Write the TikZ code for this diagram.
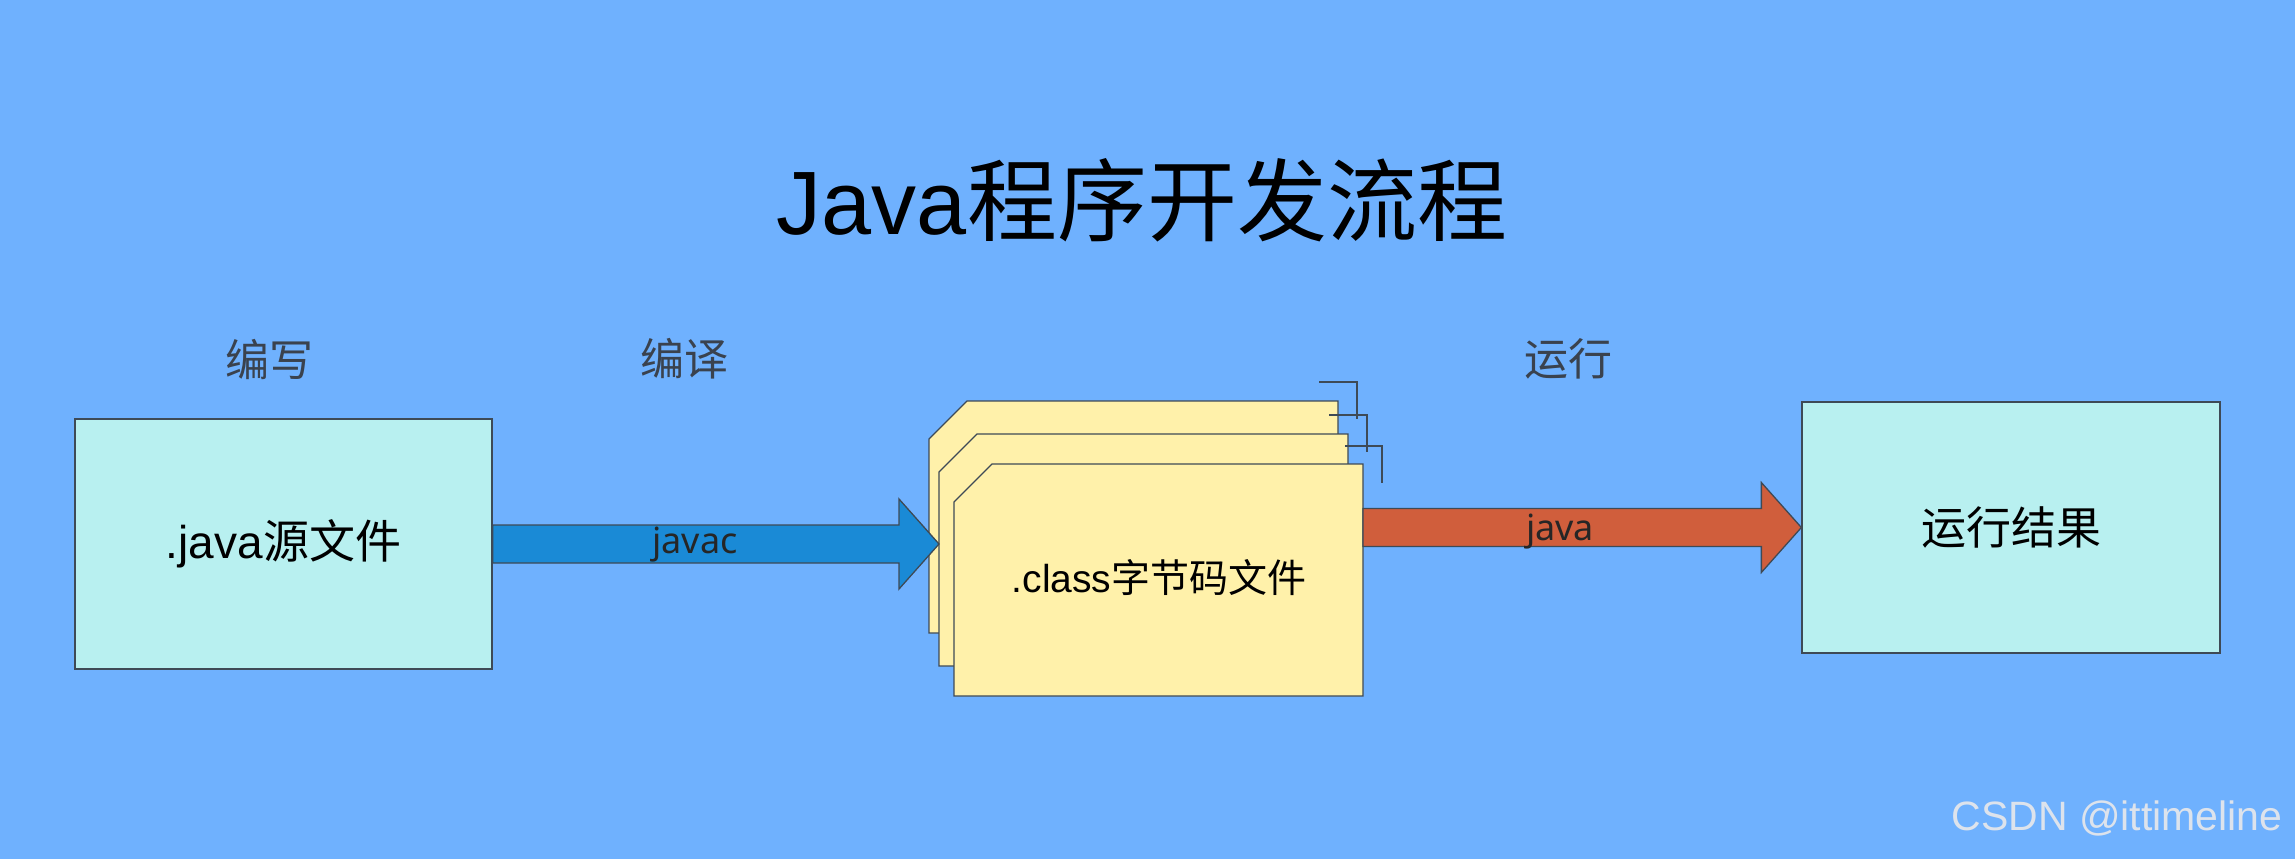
\documentclass[tikz,border=0pt]{standalone}
\usepackage{fontspec}
\setmainfont{Liberation Sans}
\newfontfamily\cjk{Noto Sans CJK SC}
\newfontfamily\noto{Noto Sans}
\usetikzlibrary{calc}
\definecolor{bg}{HTML}{6FB1FE}
\definecolor{boxfill}{HTML}{B8F0F0}
\definecolor{cardfill}{HTML}{FFF1AA}
\definecolor{edge}{HTML}{3E4A56}
\definecolor{bluearrow}{HTML}{1A8AD6}
\definecolor{redarrow}{HTML}{D05E3C}
\definecolor{labelgray}{HTML}{3A424E}
\definecolor{wm}{HTML}{DDE3EC}
\newcommand\fs[1]{\fontsize{#1}{#1}\selectfont}
\newcommand\fatarrow[3]{%
  \draw[edgeline, fill=#3] let \p1=(#1), \p2=(#2) in
    (\x1,\y1+19pt) -- (\x2-40pt,\y1+19pt) -- (\x2-40pt,\y1+45pt) -- (\x2,\y1)
    -- (\x2-40pt,\y1-45pt) -- (\x2-40pt,\y1-19pt) -- (\x1,\y1-19pt) -- cycle;}
\begin{document}
\begin{tikzpicture}[x=1pt,y=-1pt,
  edgeline/.style={draw=edge, line width=1.3pt, line join=miter},
  txt/.style={inner sep=0pt, anchor=center},
  filebox/.style={edgeline, fill=boxfill, inner sep=0pt},
  card/.style={edgeline, fill=cardfill},
  steplabel/.style={txt, text=labelgray, font={\cjk\fs{44}}},
  bracket/.style={draw=edge, line width=1.3pt}]
\fill[bg] (0,0) rectangle (2295,859);
\useasboundingbox (0,0) rectangle (2295,859);

% title
\node[txt, font={\fs{90}}] (title) at (1142,200) {Java{\cjk 程序开发流程}};

% step labels
\node[steplabel] (write) at (269,359) {编写};
\node[steplabel] (compile) at (684,359) {编译};
\node[steplabel] (run) at (1568,359) {运行};

% source and result boxes
\node[filebox, minimum width=417, minimum height=250] (L) at (283.5,544)
  {\fs{46}.java{\cjk 源文件}};
\node[filebox, minimum width=418, minimum height=251] (R) at (2011,527.5)
  {\cjk\fs{45}运行结果};

% stacked class cards
\draw[card] (929,439) -- (967,401) -- (1338,401) -- (1338,633) -- (929,633) -- cycle;
\draw[card] (939,472) -- (977,434) -- (1348,434) -- (1348,666) -- (939,666) -- cycle;
\draw[bracket] (1319,382) -- (1357,382) -- (1357,419);
\draw[bracket] (1329,415) -- (1367,415) -- (1367,452);
\draw[bracket] (1345,446) -- (1382,446) -- (1382,483);
\draw[card] (954,502) -- (992,464) -- (1363,464) -- (1363,696) -- (954,696) -- cycle;
\node[txt, font={\fs{39}}] (C) at (1159,578) {.class{\cjk 字节码文件}};

% arrow end points
\coordinate (cin) at (939,541);
\coordinate (cout) at (1363,527.5);

% arrows
\fatarrow{L.east}{cin}{bluearrow}
\fatarrow{cout}{R.west}{redarrow}
\node[txt, font={\noto\fs{36}}, text=black!85] (javac) at (695,545) {javac};
\node[txt, font={\noto\fs{36}}, text=black!85] (java) at (1560,532) {java};

% watermark
\node[txt, font={\fs{41}}, text=wm] (wmark) at (2117,818) {CSDN @ittimeline};
\end{tikzpicture}
\end{document}
